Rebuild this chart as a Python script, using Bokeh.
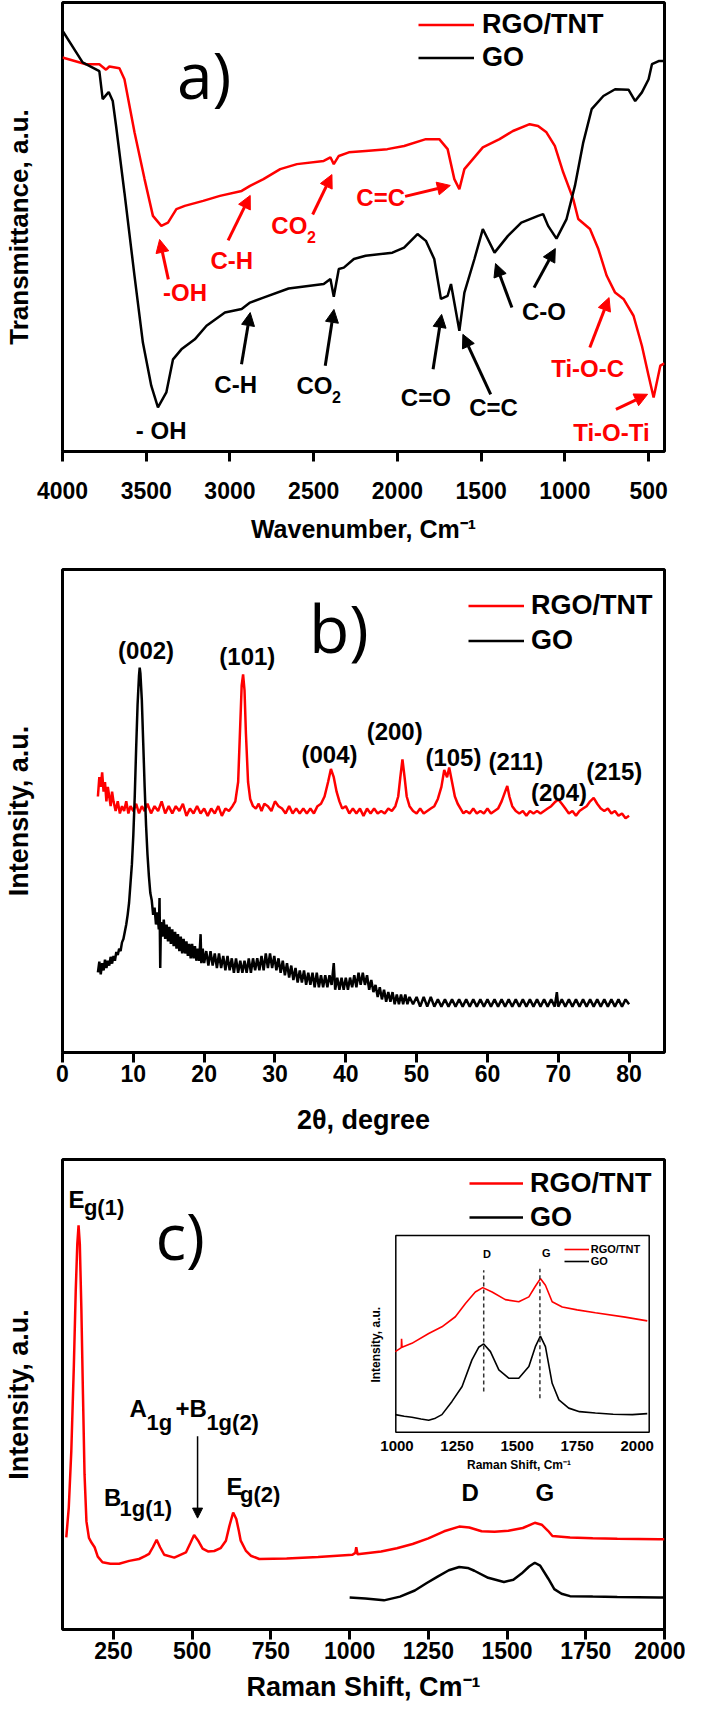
from bokeh.plotting import figure
from bokeh.layouts import column
from bokeh.models import (Range1d, FixedTicker, Legend, LegendItem, Arrow,
                          NormalHead, ColumnDataSource)
from bokeh.core.properties import value
from bokeh.embed import file_html
from bokeh.resources import INLINE

FONT = "Liberation Sans"
RED = "#ff0000"
BLACK = "#000000"

# ---------------- Panel a : FTIR ----------------
ftir_wn_go = [4000, 3880, 3780, 3760, 3740, 3724, 3700, 3680, 3630, 3570, 3520, 3470,
              3430, 3380, 3340, 3290, 3210, 3140, 3030, 2930, 2880, 2800, 2650, 2440,
              2400, 2380, 2350, 2320, 2260, 2190, 2030, 1960, 1880, 1830, 1780, 1740,
              1700, 1680, 1630, 1600, 1540, 1490, 1420, 1340, 1260, 1160, 1130, 1100,
              1050, 990, 940, 890, 840, 770, 700, 620, 580, 540, 500, 480, 440, 405]
ftir_t_go = [92.7, 85.7, 83.8, 77.6, 78.5, 79.2, 77.2, 71.7, 57.0, 38.7, 24.0, 14.5,
             9.7, 13.0, 20.3, 22.5, 24.7, 27.7, 30.6, 31.4, 32.8, 33.9, 35.9, 36.9,
             38.0, 34.1, 40.2, 40.5, 42.4, 43.1, 43.8, 44.9, 47.9, 46.4, 42.4, 33.6,
             34.3, 36.9, 26.6, 35.0, 42.4, 49.0, 43.8, 47.5, 50.4, 51.9, 52.3, 49.7,
             46.9, 51.2, 58.5, 68.1, 75.4, 78.3, 79.8, 79.7, 77.2, 79.1, 82.0, 85.3, 86.0, 86.0]
ftir_wn_rgo = [4000, 3860, 3780, 3740, 3720, 3660, 3630, 3570, 3510, 3460, 3410, 3370,
               3320, 3270, 3160, 3060, 2930, 2880, 2800, 2700, 2600, 2440, 2400, 2380,
               2350, 2290, 2190, 2060, 1960, 1830, 1750, 1700, 1660, 1630, 1600, 1490,
               1390, 1310, 1210, 1160, 1110, 1060, 1010, 950, 920, 850, 800, 750, 700,
               650, 590, 540, 500, 470, 430, 405]
ftir_t_rgo = [86.8, 85.3, 85.3, 84.1, 84.8, 84.4, 82.0, 70.3, 60.0, 51.9, 49.7, 50.4,
              53.4, 54.1, 55.2, 56.3, 57.4, 58.5, 60.0, 62.2, 63.3, 64.0, 64.8, 63.3,
              65.1, 65.9, 66.2, 66.6, 67.3, 68.8, 68.8, 66.6, 60.0, 57.8, 62.2, 67.0,
              68.8, 70.6, 72.1, 71.7, 70.3, 67.3, 61.5, 55.6, 51.2, 49.0, 44.6, 38.7, 35.0,
              33.6, 29.9, 23.3, 16.7, 11.9, 18.9, 19.4]
ftir_ticks = [4000, 3500, 3000, 2500, 2000, 1500, 1000, 500]

ftir_red_text = ["-OH", "C-H", "C=C", "Ti-O-C", "Ti-O-Ti"]
ftir_red_tx = [3268, 2989, 2100, 864, 722]
ftir_red_ty = [35.0, 42.1, 55.9, 18.3, 4.2]
ftir_blk_text = ["- OH", "C-H", "C=O", "C=C", "C-O"]
ftir_blk_tx = [3411, 2966, 1830, 1426, 1125]
ftir_blk_ty = [4.6, 14.8, 11.9, 9.6, 30.8]

# ---------------- Panel b : XRD ----------------
xrd_2t_rgo = [5.0, 5.2, 5.4, 5.6, 5.8, 6.0, 6.2, 6.4, 6.6, 6.8, 7.0, 7.2, 7.5, 7.8, 8.1,
              8.4, 8.7, 9.0, 9.3, 9.6, 10.0, 10.4, 10.8, 11.2, 11.6, 12.0, 12.5, 13.0,
              13.5, 14.0, 14.5, 15.0, 15.5, 16.0, 16.5, 17.0, 17.5, 18.0, 18.5, 19.0,
              19.5, 20.0, 20.5, 21.0, 21.5, 22.0, 22.5, 23.0, 23.5, 24.0, 24.4, 24.8,
              25.1, 25.3, 25.5, 25.7, 25.9, 26.2, 26.5, 26.9, 27.3, 27.7, 28.1, 28.5,
              29.0, 29.5, 30.0, 30.5, 31.0, 31.5, 32.0, 32.5, 33.0, 33.5, 34.0, 34.5,
              35.0, 35.5, 36.0, 36.5, 37.0, 37.5, 37.9, 38.3, 38.7, 39.1, 39.5, 40.0,
              40.5, 41.0, 41.5, 42.0, 42.5, 43.0, 43.5, 44.0, 44.5, 45.0, 45.5, 46.0,
              46.5, 47.0, 47.4, 47.7, 48.0, 48.3, 48.6, 49.0, 49.5, 50.0, 50.5, 51.0,
              51.5, 52.0, 52.5, 53.0, 53.5, 53.9, 54.3, 54.6, 55.0, 55.4, 55.8, 56.2,
              56.6, 57.0, 57.5, 58.0, 58.5, 59.0, 59.5, 60.0, 60.5, 61.0, 61.5, 62.0,
              62.5, 62.8, 63.1, 63.5, 64.0, 64.5, 65.0, 65.5, 66.0, 66.5, 67.0, 67.5,
              68.0, 68.5, 69.0, 69.5, 70.0, 70.5, 71.0, 71.5, 72.0, 72.5, 73.0, 73.5,
              74.0, 74.5, 75.0, 75.5, 76.0, 76.5, 77.0, 77.5, 78.0, 78.5, 79.0, 79.5, 80.0]
xrd_i_rgo = [53, 57, 55, 58, 54, 56, 52, 55, 53, 51, 54, 52, 50, 52, 49.5,
             51, 50, 52, 49.5, 51, 50, 51.5, 49.5, 51, 50, 51.5, 49.5, 51,
             50, 52, 49.5, 51, 49.5, 51, 50, 51.5, 49, 50.5, 49.5, 51,
             49.5, 50.5, 49, 50.5, 49.5, 51, 49, 50.5, 50, 51, 52, 56,
             68, 76, 78.3, 75, 66, 56, 52.5, 51, 50.5, 51.5, 50, 51.5,
             51, 50, 52, 51, 50.5, 49.5, 51, 49.5, 50.5, 49.5, 50.5, 49.5,
             50.5, 49.5, 51, 51.5, 53, 56, 58.7, 57, 54, 52, 50.5, 51,
             49.5, 50.5, 49.5, 50.5, 49, 50.5, 49.5, 50.5, 49.5, 50, 49.5, 50.5,
             50, 51, 53, 57, 60.7, 57, 53, 51, 50, 49.5, 50.5, 49.5,
             50, 50.5, 51, 52.5, 55, 58.5, 57, 59, 56, 53, 51.5, 50.5,
             49.5, 50, 49.5, 50.5, 49.5, 50, 49.5, 50.5, 49.5, 50, 50.5, 52,
             54, 55.2, 53, 51, 50, 49.5, 50, 49, 50, 49.5, 50, 49.5,
             50, 50.5, 51, 51.8, 52.4, 51.5, 50.5, 49.5, 50, 49, 50, 50.5,
             51, 52, 52.7, 51.5, 50.5, 50, 50.5, 49.5, 50, 49, 49.5, 48.5, 49]
xrd_2t_go = [5.0, 5.2, 5.4, 5.6, 5.8, 6.0, 6.2, 6.4, 6.6, 6.8, 7.0, 7.2, 7.4, 7.6, 7.8,
             8.0, 8.2, 8.4, 8.6, 8.8, 9.0, 9.2, 9.4, 9.6, 9.8, 10.0, 10.2, 10.4, 10.6,
             10.8, 10.9, 11.0, 11.2, 11.4, 11.6, 11.8, 12.0, 12.2, 12.4, 12.6, 12.8,
             13.0, 13.2, 13.4, 13.6, 13.7, 13.8, 13.9, 14.1, 14.3, 14.5, 14.7, 14.9,
             15.1, 15.3, 15.5, 15.7, 15.9, 16.1, 16.3, 16.5, 16.7, 16.9, 17.1, 17.3,
             17.5, 17.7, 17.9, 18.1, 18.3, 18.5, 18.7, 18.9, 19.1, 19.3, 19.5, 19.6,
             19.8, 20.0, 20.3, 20.6, 20.9, 21.2, 21.5, 21.8, 22.1, 22.4, 22.7, 23.0,
             23.3, 23.6, 23.9, 24.2, 24.5, 24.8, 25.1, 25.4, 25.7, 26.0, 26.3, 26.6,
             26.9, 27.2, 27.5, 27.8, 28.1, 28.4, 28.7, 29.0, 29.3, 29.6, 29.9, 30.2,
             30.5, 30.8, 31.1, 31.4, 31.7, 32.0, 32.3, 32.6, 32.9, 33.2, 33.5, 33.8,
             34.1, 34.4, 34.7, 35.0, 35.3, 35.6, 35.9, 36.2, 36.5, 36.8, 37.1, 37.4,
             37.7, 38.0, 38.3, 38.5, 38.8, 39.1, 39.4, 39.7, 40.0, 40.3, 40.6, 40.9,
             41.2, 41.5, 41.8, 42.1, 42.4, 42.7, 43.0, 43.3, 43.6, 43.9, 44.2, 44.5,
             44.8, 45.1, 45.4, 45.7, 46.0, 46.3, 46.6, 46.9, 47.2, 47.5, 47.8, 48.1,
             48.4, 48.7, 49.0, 49.5, 50.0, 50.5, 51.0, 51.5, 52.0, 52.5, 53.0, 53.5,
             54.0, 54.5, 55.0, 55.5, 56.0, 56.5, 57.0, 57.5, 58.0, 58.5, 59.0, 59.5,
             60.0, 60.5, 61.0, 61.5, 62.0, 62.5, 63.0, 63.5, 64.0, 64.5, 65.0, 65.5,
             66.0, 66.5, 67.0, 67.5, 68.0, 68.5, 69.0, 69.5, 69.8, 70.0, 70.5, 71.0,
             71.5, 72.0, 72.5, 73.0, 73.5, 74.0, 74.5, 75.0, 75.5, 76.0, 76.5, 77.0,
             77.5, 78.0, 78.5, 79.0, 79.5, 80.0]
xrd_i_go = [16.6, 18.8, 16.2, 18.5, 17.0, 19.2, 17.5, 19.0, 18.0, 19.8, 18.4, 20.0, 19.0, 20.8, 20.2,
            21.5, 21.0, 22.8, 23.5, 25.0, 26.5, 28.5, 31.0, 35.0, 39.0, 45.0, 53.0, 63.0, 72.0,
            78.0, 79.7, 78.5, 73.0, 64.0, 55.0, 47.0, 41.0, 36.5, 33.0, 31.5, 28.5,
            30.0, 26.5, 29.0, 25.5, 32.0, 17.5, 27.0, 24.0, 27.5, 23.5, 26.5, 23.0,
            26.0, 22.5, 25.5, 22.0, 25.0, 21.5, 24.5, 21.0, 24.0, 20.5, 23.5, 20.5,
            23.0, 20.0, 22.5, 19.5, 22.5, 19.5, 22.0, 19.0, 21.5, 19.0, 24.5, 18.5,
            21.5, 18.5, 21.0, 18.0, 21.0, 18.0, 20.5, 17.5, 20.5, 17.5, 20.0, 17.0,
            20.0, 17.0, 19.5, 16.5, 19.5, 16.5, 19.0, 16.5, 19.0, 16.5, 19.5, 16.5,
            19.5, 17.0, 19.5, 17.0, 20.0, 17.0, 20.5, 17.5, 20.5, 17.5, 20.0, 17.0,
            19.5, 16.5, 19.0, 16.0, 18.5, 15.5, 18.0, 15.0, 17.5, 14.5, 17.0, 14.5,
            17.0, 14.0, 16.5, 14.0, 16.5, 13.5, 16.5, 13.5, 16.0, 13.5, 16.0, 13.5,
            16.0, 14.0, 18.5, 13.0, 15.5, 13.0, 15.5, 13.0, 15.5, 13.0, 15.5, 13.5,
            16.0, 13.5, 16.5, 14.0, 16.5, 14.0, 16.0, 13.0, 15.0, 12.5, 14.0, 11.5,
            13.5, 11.0, 13.0, 10.5, 12.5, 10.5, 12.5, 10.0, 12.0, 10.0, 12.0, 10.0,
            12.0, 10.0, 11.5, 10.0, 11.5, 9.5, 11.5, 9.5, 11.5, 9.5, 11.0, 9.5,
            11.0, 9.5, 11.0, 9.5, 11.0, 9.5, 11.0, 9.5, 11.0, 9.5, 11.0, 9.5,
            11.0, 9.5, 11.0, 9.5, 11.0, 9.5, 11.0, 9.5, 11.0, 9.5, 11.0, 9.5,
            11.0, 9.5, 11.0, 9.5, 11.0, 9.5, 11.0, 9.5, 12.5, 9.5, 11.0, 9.5,
            11.0, 9.5, 11.0, 9.5, 11.0, 9.5, 11.0, 9.5, 11.0, 9.5, 11.0, 9.5,
            11.0, 9.5, 11.0, 9.5, 11.0, 10.0]
xrd_ticks = [0, 10, 20, 30, 40, 50, 60, 70, 80]
xrd_text = ["(002)", "(101)", "(004)", "(200)", "(105)", "(211)", "(204)", "(215)"]
xrd_tx = [11.8, 26.1, 37.7, 46.9, 55.2, 64.0, 70.1, 77.9]
xrd_ty = [83.3, 82.0, 61.6, 66.5, 61.1, 60.2, 53.8, 58.1]

# ---------------- Panel c : Raman ----------------
raman_x_rgo = [100, 108, 116, 124, 130, 135, 139, 143, 148, 153, 158, 164, 172, 180, 190,
               200, 215, 240, 268, 300, 331, 350, 363, 375, 387, 398, 411, 443, 480, 495,
               506, 518, 533, 550, 570, 590, 607, 618, 630, 640, 648, 654, 670, 686, 713,
               800, 900, 1009, 1018, 1021, 1025, 1100, 1150, 1200, 1250, 1300, 1348, 1380,
               1419, 1460, 1504, 1550, 1588, 1610, 1630, 1644, 1700, 1772, 1850, 1983, 2000]
raman_i_rgo = [19.6, 26, 38, 56, 72, 82, 86, 82, 68, 50, 33, 23, 19.5, 18.5, 17.5,
               15.5, 14.3, 14.0, 14.0, 14.6, 15.0, 15.6, 16.1, 17.5, 19.1, 17.5, 15.9, 15.3, 16.4, 18.5,
               20.1, 19, 17.2, 16.6, 16.7, 17.3, 18.9, 22, 24.9, 23.5, 21, 18.9, 16.8, 15.7, 15.0,
               15.1, 15.4, 15.9, 16.3, 17.5, 16.0, 16.6, 17.3, 18.2, 19.4, 20.9, 21.9, 21.7,
               20.9, 20.8, 21.0, 21.6, 22.7, 22.3, 21.0, 19.9, 19.6, 19.4, 19.3, 19.2, 19.2]
raman_x_go = [1000, 1050, 1109, 1160, 1207, 1245, 1278, 1315, 1348, 1375, 1396, 1440, 1490,
              1520, 1546, 1570, 1588, 1605, 1631, 1650, 1673, 1700, 1772, 1850, 1983, 2000]
raman_i_go = [6.8, 6.6, 6.2, 7.0, 8.3, 9.9, 11.2, 12.6, 13.3, 13.1, 12.5, 11.0, 10.1,
              10.6, 11.9, 13.4, 14.2, 13.6, 10.8, 8.6, 7.6, 7.1, 7.0, 6.9, 6.8, 6.8]
raman_ticks = [250, 500, 750, 1000, 1250, 1500, 1750, 2000]
raman_main_text = ["E", "B", "A", "+B", "E", "D", "G"]
raman_main_tx = [107, 220, 301, 447, 609, 1355, 1590]
raman_main_ty = [91.5, 28.0, 47.1, 47.1, 30.5, 29.2, 29.2]
raman_sub_text = ["g(1)", "1g(1)", "1g", "1g(2)", "g(2)"]
raman_sub_tx = [156, 269, 355, 545, 652]
raman_sub_ty = [89.8, 25.8, 44.1, 44.1, 28.8]

# inset (D and G band region)
inset_x_rgo = [993, 1018, 1019, 1021, 1062, 1132, 1187, 1243, 1285, 1326, 1357, 1396, 1451,
               1507, 1549, 1576, 1597, 1618, 1646, 1688, 1750, 1826, 1950, 2042]
inset_i_rgo = [41.0, 43.0, 47.5, 43.2, 45.2, 50.2, 53.6, 58.7, 65.4, 71.3, 73.5, 71.3, 67.4,
               66.3, 68.8, 74.2, 78.1, 74.7, 66.3, 63.7, 62.2, 60.7, 58.5, 56.6]
inset_x_go = [993, 1030, 1062, 1100, 1132, 1160, 1187, 1229, 1271, 1312, 1340, 1361, 1389,
              1424, 1465, 1507, 1549, 1576, 1597, 1618, 1646, 1674, 1715, 1760, 1826, 1900, 1980, 2042]
inset_i_go = [9.0, 8.2, 7.7, 6.8, 6.1, 7.2, 9.0, 15.7, 23.3, 36.8, 43.2, 44.9, 41.0,
              31.7, 27.5, 27.5, 33.4, 43.5, 48.9, 43.5, 24.9, 16.5, 12.3, 10.5, 9.8, 9.2, 9.0, 9.5]
inset_ticks = [1000, 1250, 1500, 1750, 2000]
inset_band_text = ["D", "G"]
inset_band_x = [1361, 1595]
inset_band_top = [82.3, 83.1]
inset_band_bot = [20.7, 17.3]


def make_fig(width, height, xr, yr, borders, xlabel, ylabel, ticks,
             tick_standoff, xlabel_standoff, xlabel_size, ylabel_size):
    p = figure(width=width, height=height, x_range=xr, y_range=yr,
               output_backend="svg", toolbar_location=None,
               min_border_left=borders[0], min_border_right=borders[1],
               min_border_top=borders[2], min_border_bottom=borders[3])
    p.grid.visible = False
    p.outline_line_color = BLACK
    p.outline_line_width = 3
    p.outline_line_alpha = 1.0
    p.background_fill_color = "white"
    p.border_fill_color = "white"
    xa = p.xaxis[0]
    xa.ticker = FixedTicker(ticks=ticks)
    xa.axis_line_color = None
    xa.major_tick_out = 10
    xa.major_tick_in = 0
    xa.major_tick_line_width = 3
    xa.minor_tick_line_color = None
    xa.major_label_text_font = FONT
    xa.major_label_text_font_style = "bold"
    xa.major_label_text_font_size = "23px"
    xa.major_label_text_color = BLACK
    xa.major_label_standoff = tick_standoff
    xa.axis_label = xlabel
    xa.axis_label_text_font = FONT
    xa.axis_label_text_font_style = "bold"
    xa.axis_label_text_font_size = xlabel_size
    xa.axis_label_text_color = BLACK
    xa.axis_label_standoff = xlabel_standoff
    ya = p.yaxis[0]
    ya.ticker = FixedTicker(ticks=[])
    ya.axis_line_color = None
    ya.major_tick_out = 0
    ya.major_tick_in = 0
    ya.minor_tick_out = 0
    ya.minor_tick_in = 0
    ya.major_label_standoff = 0
    ya.axis_label = ylabel
    ya.axis_label_text_font = FONT
    ya.axis_label_text_font_style = "bold"
    ya.axis_label_text_font_size = ylabel_size
    ya.axis_label_text_color = BLACK
    ya.axis_label_standoff = 29
    return p


def add_legend(p, r_red, r_blk, vx, vy, pitch, glyph_w, size, standoff):
    leg = Legend(items=[LegendItem(label="RGO/TNT", renderers=[r_red]),
                        LegendItem(label="GO", renderers=[r_blk])],
                 location=(vx, vy), padding=0, margin=0, spacing=0,
                 glyph_width=glyph_w, glyph_height=pitch, label_height=pitch,
                 label_standoff=standoff, border_line_color=None,
                 background_fill_alpha=0,
                 label_text_font=FONT, label_text_font_style="bold",
                 label_text_font_size=size, label_text_color=BLACK)
    p.add_layout(leg)


def bold_text(p, x, y, text, color, size, align="center"):
    p.text(x=x, y=y, text=text, text_color=color, text_font=value(FONT),
           text_font_style="bold", text_font_size=size, text_align=align,
           text_baseline="middle")


# ---------- Figure a ----------
pa = make_fig(685, 560, Range1d(4000, 405), Range1d(0, 98.9), (61, 2, 2, 109),
              "Wavenumber, Cm\u207b\u00b9", "Transmittance, a.u.", ftir_ticks,
              20, 13, "25px", "26px")
ra_red = pa.line(ftir_wn_rgo, ftir_t_rgo, line_color=RED, line_width=2.5)
ra_blk = pa.line(ftir_wn_go, ftir_t_go, line_color=BLACK, line_width=2.5)
add_legend(pa, ra_red, ra_blk, 356, 377.5, 33, 56, "27px", 8)
bold_text(pa, ftir_red_tx, ftir_red_ty, ftir_red_text, RED, "24px")
bold_text(pa, ftir_blk_tx, ftir_blk_ty, ftir_blk_text, BLACK, "24px")
# CO2 labels (CO + subscript 2)
bold_text(pa, [2753], [49.8], ["CO"], RED, "24px", "left")
bold_text(pa, [2540], [47.2], ["2"], RED, "16px", "left")
bold_text(pa, [2603], [14.6], ["CO"], BLACK, "24px", "left")
bold_text(pa, [2391], [12.1], ["2"], BLACK, "16px", "left")
pa.text(x=[3316], y=[83.1], text=["a)"], text_font=value("Open Sans"),
        text_font_size="64px", text_align="left", text_baseline="middle", text_color=BLACK)
red_arrows = ColumnDataSource(dict(
    x0=[3368, 3011, 2506, 1954, 851, 695], y0=[37.9, 46.5, 52.2, 56.2, 22.9, 9.3],
    x1=[3420, 2879, 2391, 1684, 736, 506], y1=[46.7, 56.4, 61.0, 58.6, 33.9, 12.6]))
blk_arrows = ColumnDataSource(dict(
    x0=[2931, 2431, 1787, 1443, 1184, 1316], y0=[19.2, 18.9, 18.1, 12.6, 36.1, 31.7],
    x1=[2879, 2379, 1736, 1609, 1057, 1414], y1=[30.6, 31.3, 30.2, 25.8, 44.7, 41.4]))
pa.add_layout(Arrow(end=NormalHead(size=13, fill_color=RED, line_color=RED),
                    x_start="x0", y_start="y0", x_end="x1", y_end="y1",
                    source=red_arrows, line_color=RED, line_width=3))
pa.add_layout(Arrow(end=NormalHead(size=13, fill_color=BLACK, line_color=BLACK),
                    x_start="x0", y_start="y0", x_end="x1", y_end="y1",
                    source=blk_arrows, line_color=BLACK, line_width=3))

# ---------- Figure b ----------
pb = make_fig(685, 585, Range1d(0, 85), Range1d(0, 100), (62, 5, 9, 93),
              "2\u03b8, degree", "Intensity, a.u.", xrd_ticks,
              2, 20, "27px", "27px")
rb_red = pb.line(xrd_2t_rgo, xrd_i_rgo, line_color=RED, line_width=2.5)
rb_blk = pb.line(xrd_2t_go, xrd_i_go, line_color=BLACK, line_width=2.5)
add_legend(pb, rb_red, rb_blk, 406, 394.5, 35, 56, "27px", 7)
bold_text(pb, xrd_tx, xrd_ty, xrd_text, BLACK, "24px")
pb.text(x=[34.8], y=[88.0], text=["b)"], text_font=value("Open Sans"),
        text_font_size="66px", text_align="left", text_baseline="middle", text_color=BLACK)

# ---------- Figure c ----------
pc = make_fig(685, 563, Range1d(88, 2000), Range1d(0, 100), (62, 21, 14, 79),
              "Raman Shift, Cm\u207b\u00b9", "Intensity, a.u.", raman_ticks,
              2, 10, "27px", "27px")
rc_red = pc.line(raman_x_rgo, raman_i_rgo, line_color=RED, line_width=2.5)
rc_blk = pc.line(raman_x_go, raman_i_go, line_color=BLACK, line_width=2.5)
add_legend(pc, rc_red, rc_blk, 407, 395, 34, 54, "27px", 7)
pc.text(x=raman_main_tx, y=raman_main_ty, text=raman_main_text, text_color=BLACK,
        text_font=value(FONT), text_font_style="bold", text_font_size="24px",
        text_align="left", text_baseline="middle")
bold_text(pc, raman_sub_tx, raman_sub_ty, raman_sub_text, BLACK, "22px", "left")
pc.text(x=[383], y=[83.9], text=["c)"], text_font=value("Open Sans"),
        text_font_size="64px", text_align="left", text_baseline="middle", text_color=BLACK)
pc.add_layout(Arrow(end=NormalHead(size=10, fill_color=BLACK, line_color=BLACK),
                    x_start=517, y_start=41.1, x_end=517, y_end=23.7,
                    line_color=BLACK, line_width=1.5))

# inset
sub = pc.subplot(x_source=Range1d(995, 2050), y_source=Range1d(0, 100),
                 x_target=Range1d(1146.6, 1951.4), y_target=Range1d(41.95, 83.84))
sub.quad(left=[995], right=[2050], bottom=[0], top=[100], fill_color="white",
         line_color=BLACK, line_width=1.5)
ri_red = sub.line(inset_x_rgo, inset_i_rgo, line_color=RED, line_width=1.6)
ri_blk = sub.line(inset_x_go, inset_i_go, line_color=BLACK, line_width=1.6)
sub.segment(x0=inset_band_x, y0=inset_band_bot, x1=inset_band_x, y1=inset_band_top,
            line_color="#333333", line_width=1.5, line_dash="4 3")
sub.text(x=[1375, 1621], y=[90.7, 91.0], text=inset_band_text, text_color=BLACK,
         text_font=value(FONT), text_font_style="bold", text_font_size="11px",
         text_align="center", text_baseline="middle")
sub.text(x=inset_ticks, y=[-7] * len(inset_ticks), text=[str(t) for t in inset_ticks],
         text_color=BLACK, text_font=value(FONT), text_font_style="bold",
         text_font_size="15px", text_align="center", text_baseline="middle")
sub.text(x=[1508], y=[-16.7], text=["Raman Shift, Cm\u207b\u00b9"], text_color=BLACK,
         text_font=value(FONT), text_font_style="bold", text_font_size="12px",
         text_align="center", text_baseline="middle")
sub.text(x=[912], y=[44.5], text=["Intensity, a.u."], text_color=BLACK, angle=1.5708,
         text_font=value(FONT), text_font_style="bold", text_font_size="12px",
         text_align="center", text_baseline="middle")
inset_leg = Legend(items=[LegendItem(label="RGO/TNT", renderers=[ri_red]),
                          LegendItem(label="GO", renderers=[ri_blk])],
                   location=(501.7, 362.5), padding=0, margin=0, spacing=0,
                   glyph_width=25, glyph_height=12, label_height=12,
                   label_standoff=2, border_line_color=None, background_fill_alpha=0,
                   label_text_font=FONT, label_text_font_style="bold",
                   label_text_font_size="11px", label_text_color=BLACK)
pc.add_layout(inset_leg)

layout = column(pa, pb, pc, spacing=0)
open("out.html", "w").write(file_html(layout, INLINE))
